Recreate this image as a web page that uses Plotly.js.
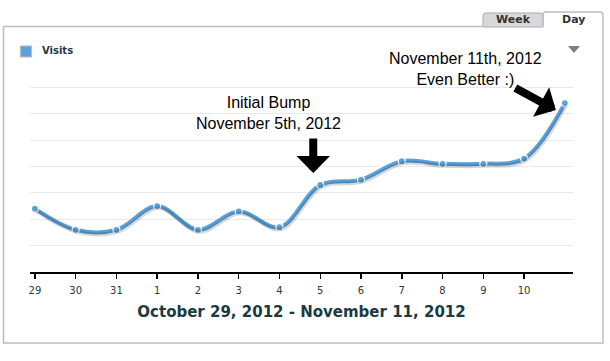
<!DOCTYPE html>
<html>
<head>
<meta charset="utf-8">
<script src="https://cdn.plot.ly/plotly-3.0.1.min.js"></script>
<style>html,body{margin:0;padding:0;background:#fff;}#chart{width:610px;height:361px;}</style>
</head>
<body>
<div id="chart"></div>
<script>
// ---- data ----
const dates = ['Oct 29','Oct 30','Oct 31','Nov 1','Nov 2','Nov 3','Nov 4','Nov 5','Nov 6','Nov 7','Nov 8','Nov 9','Nov 10','Nov 11'];
const visits = [24, 16, 16, 25, 16, 23, 17, 33, 35, 42, 41, 41, 43, 64];
const tickLabels = ['29','30','31','1','2','3','4','5','6','7','8','9','10'];
const seriesName = 'Visits';
const chartTitle = 'October 29, 2012 - November 11, 2012';
const note1 = 'Initial Bump<br>November 5th, 2012';
const note2 = 'November 11th, 2012<br>Even Better :)';
const tabs = ['Week', 'Day'];

// ---- layout helpers (pixel -> paper) ----
const M = {l: 30, r: 37, t: 82, b: 89};
const W = 610, H = 361;
const PW = W - M.l - M.r, PH = H - M.t - M.b;
const X = p => (p - M.l) / PW;
const Y = p => (H - M.b - p) / PH;

const blue = '#5aa2dc';
const xr = [-0.12, 13.2];
const yr = [0, 72];
const dx = 1.2 / (PW / (xr[1] - xr[0]));
const dy = 2 / (PH / (yr[1] - yr[0]));

const traces = [
  { // shadow
    x: dates, y: visits, xaxis: 'x2', yaxis: 'y2', mode: 'lines',
    line: {shape: 'spline', smoothing: 1, color: 'rgba(0,0,0,0.16)', width: 4},
    hoverinfo: 'skip', showlegend: false
  },
  {
    x: dates, y: visits, mode: 'lines+markers', name: seriesName, showlegend: false,
    line: {shape: 'spline', smoothing: 1, color: blue, width: 4},
    marker: {size: 7, color: blue, line: {color: '#ffffff', width: 1.2}}
  }
];

const framePath =
  `M ${X(483)},${Y(26.5)} L ${X(3.5)},${Y(26.5)} L ${X(3.5)},${Y(343)} L ${X(603)},${Y(343)} ` +
  `L ${X(603)},${Y(15)} Q ${X(603)},${Y(12)} ${X(600)},${Y(12)} L ${X(546)},${Y(12)} ` +
  `Q ${X(543)},${Y(12)} ${X(543)},${Y(15)} L ${X(543)},${Y(26.5)}`;
const weekPath =
  `M ${X(483)},${Y(27)} L ${X(483)},${Y(15.5)} Q ${X(483)},${Y(13)} ${X(486)},${Y(13)} ` +
  `L ${X(540)},${Y(13)} Q ${X(543)},${Y(13)} ${X(543)},${Y(15.5)} L ${X(543)},${Y(27)} Z`;
const triPath = `M ${X(568)},${Y(46)} L ${X(580)},${Y(46)} L ${X(574)},${Y(53)} Z`;

const tabFont = {family: 'DejaVu Sans, Verdana, sans-serif', size: 11, color: '#333', weight: 'bold'};
const noteFont = {family: 'Liberation Sans, Arial, sans-serif', size: 16, color: '#000'};

const layout = {
  width: W, height: H,
  margin: M,
  paper_bgcolor: '#ffffff', plot_bgcolor: '#ffffff',
  font: {family: 'DejaVu Sans, Verdana, sans-serif', color: '#223a44'},
  showlegend: false,
  xaxis: {
    type: 'category', categoryorder: 'array', categoryarray: dates,
    range: xr, fixedrange: true,
    tickmode: 'array', tickvals: dates.slice(0, tickLabels.length), ticktext: tickLabels,
    ticks: 'outside', ticklen: 5, tickwidth: 1.5, tickcolor: '#000',
    ticklabelstandoff: 3,
    showline: true, linecolor: '#000', linewidth: 1.5,
    showgrid: false, zeroline: false,
    tickfont: {family: 'DejaVu Sans, Verdana, sans-serif', size: 10, color: '#2a3a40'},
    title: {text: chartTitle, standoff: 12,
      font: {family: 'DejaVu Sans, Verdana, sans-serif', size: 15, color: '#1b3a42', weight: 'bold'}}
  },
  yaxis: {
    range: yr, fixedrange: true, dtick: 10, tick0: 0,
    showticklabels: false, ticks: '', showline: false,
    showgrid: true, gridcolor: '#e9e9e9', gridwidth: 1, zeroline: false
  },
  xaxis2: {
    type: 'category', categoryorder: 'array', categoryarray: dates,
    range: [xr[0] - dx, xr[1] - dx], overlaying: 'x', visible: false, fixedrange: true
  },
  yaxis2: {
    range: [yr[0] + dy, yr[1] + dy], overlaying: 'y', visible: false, fixedrange: true
  },
  shapes: [
    {type: 'path', xref: 'paper', yref: 'paper', path: weekPath, fillcolor: '#d8d8d8', line: {color: '#a9a9a9', width: 1}},
    {type: 'path', xref: 'paper', yref: 'paper', path: framePath, line: {color: '#bdbdbd', width: 1.5}},
    {type: 'path', xref: 'paper', yref: 'paper', path: triPath, fillcolor: '#7d7d7d', line: {width: 0}},
    // legend swatch
    {type: 'rect', xref: 'paper', yref: 'paper', x0: X(20.5), x1: X(31.5), y0: Y(46), y1: Y(57),
      fillcolor: blue, line: {color: '#b8b8b8', width: 1.2}}
  ],
  annotations: [
    {xref: 'paper', yref: 'paper', x: X(513), xanchor: 'center', y: Y(19.5), yanchor: 'middle', text: tabs[0], showarrow: false, font: tabFont},
    {xref: 'paper', yref: 'paper', x: X(573), xanchor: 'center', y: Y(19.5), yanchor: 'middle', text: tabs[1], showarrow: false, font: tabFont},
    {xref: 'paper', yref: 'paper', x: X(40), xanchor: 'left', y: Y(51), yanchor: 'middle', text: seriesName, showarrow: false,
      font: {family: 'DejaVu Sans, Verdana, sans-serif', size: 10, color: '#1b3a42', weight: 'bold'}},
    // text notes anchored to their data points
    {x: dates[7], y: visits[7], text: note1, showarrow: false, xshift: -52, yshift: 72,
      xanchor: 'center', yanchor: 'middle', font: noteFont},
    {x: dates[13], y: visits[13], text: note2, showarrow: false, xshift: -99, yshift: 34,
      xanchor: 'center', yanchor: 'middle', font: noteFont},
    // arrows
    {x: dates[7], y: visits[7], text: '', showarrow: true, xshift: -7, yshift: 12,
      ax: 0, ay: -36, arrowhead: 1, arrowsize: 0.7, arrowwidth: 8, arrowcolor: '#000'},
    {x: dates[13], y: visits[13], text: '', showarrow: true, xshift: -9, yshift: -7,
      ax: -42, ay: -23, arrowhead: 1, arrowsize: 0.7, arrowwidth: 8, arrowcolor: '#000'}
  ]
};

Plotly.newPlot('chart', traces, layout, {displayModeBar: false, staticPlot: true});
</script>
</body>
</html>
